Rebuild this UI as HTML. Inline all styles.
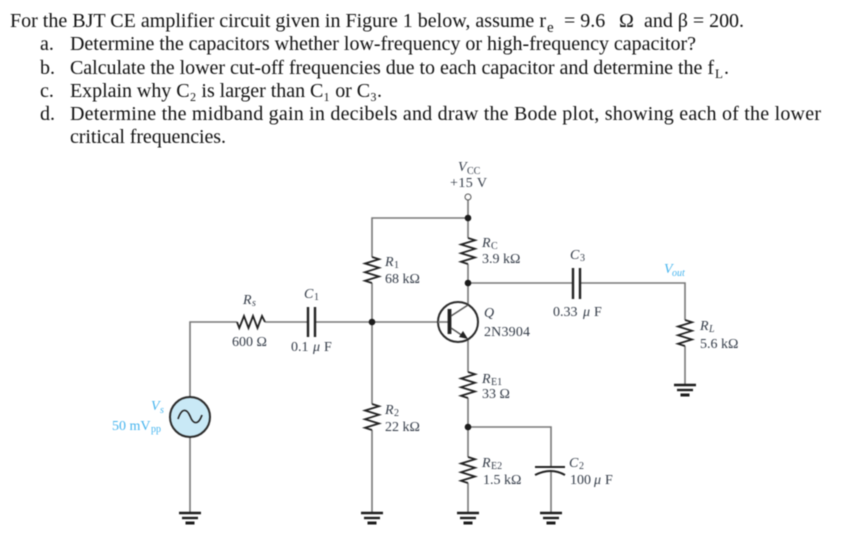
<!DOCTYPE html>
<html><head><meta charset="utf-8">
<style>
html,body{margin:0;padding:0;background:#fff;width:862px;height:541px;overflow:hidden}
svg{display:block;position:absolute;left:0;top:0;filter:blur(0.4px)}
.t{font-family:"Liberation Serif",serif;font-size:20px;fill:#111}
.l{font-family:"Liberation Serif",serif;font-size:14px;fill:#333b47}
.i{font-style:italic}
.s{font-size:10px}
.b{fill:#45b4ee}
.w{stroke:#777;stroke-width:1.6;fill:none}
.r{stroke:#222;stroke-width:1.8;fill:none;stroke-linejoin:miter}
.g{stroke:#1c1c1c;fill:none}
.n{fill:#1c1c1c}
</style></head><body>
<svg width="862" height="541" viewBox="0 0 862 541" xmlns="http://www.w3.org/2000/svg">
<defs>
<path id="res" d="M0 0L7 2.2L-7 6.5L7 10.8L-7 15.2L7 19.5L-7 23.8L0 26"/>
<path id="resh" d="M0 0L2.300 6L7 -6L11.500 6L16 -6L20.500 6L25 -6L28 0"/>
<g id="gnd"><path d="M-11 0H11" stroke-width="2.400"/><path d="M-8 5H8" stroke-width="2.400"/><path d="M-4.500 10H4.500" stroke-width="3"/></g>
</defs>

<!-- question text -->
<text class="t" x="10" y="27" textLength="536" lengthAdjust="spacing">For the BJT CE amplifier circuit given in Figure 1 below, assume r</text>
<text class="t" x="547" y="32" style="font-size:15px">e</text>
<text class="t" x="564" y="27">= 9.6</text>
<text class="t" x="619" y="27">Ω</text>
<text class="t" x="644" y="27" textLength="100" lengthAdjust="spacing">and β = 200.</text>
<text class="t" x="40" y="50">a.</text>
<text class="t" x="70" y="50" textLength="626" lengthAdjust="spacing">Determine the capacitors whether low-frequency or high-frequency capacitor?</text>
<text class="t" x="40" y="74">b.</text>
<text class="t" x="70" y="74" textLength="644" lengthAdjust="spacing">Calculate the lower cut-off frequencies due to each capacitor and determine the f</text>
<text class="t" x="715" y="78" style="font-size:13px">L</text>
<text class="t" x="724" y="74">.</text>
<text class="t" x="40" y="97">c.</text>
<text class="t" x="70" y="97" textLength="312" lengthAdjust="spacing">Explain why C₂ is larger than C₁ or C₃.</text>
<text class="t" x="40" y="120">d.</text>
<text class="t" x="70" y="120" textLength="751" lengthAdjust="spacing">Determine the midband gain in decibels and draw the Bode plot, showing each of the lower</text>
<text class="t" x="70" y="143" textLength="156" lengthAdjust="spacing">critical frequencies.</text>

<!-- wires -->
<path class="w" d="M190 397V322H237M265 322H308M315 322H438M190 437V513"/>
<path class="w" d="M372 257V218H468M468 200V238M468 264V305M468 339V372M372 283V404M372 430V513"/>
<path class="w" d="M468 398V457M468 483V513M468 427H551V467M551 472V513M468 283H573M580 283H685V320M685 346V385"/>

<!-- resistors -->
<use href="#res" class="r" transform="translate(372 257)"/>
<use href="#res" class="r" transform="translate(468 238)"/>
<use href="#res" class="r" transform="translate(372 404)"/>
<use href="#res" class="r" transform="translate(468 372)"/>
<use href="#res" class="r" transform="translate(468 457)"/>
<use href="#res" class="r" transform="translate(685 320)"/>
<use href="#resh" class="r" transform="translate(237 322)"/>

<!-- capacitors -->
<path stroke="#222" stroke-width="2.400" d="M308 307V337M315 307V337M573 268V299M580 268V299"/>
<path stroke="#222" stroke-width="2" fill="none" d="M535 467H565M535 475Q551 467 565 475"/>

<!-- grounds -->
<use href="#gnd" class="g" transform="translate(190 513)"/>
<use href="#gnd" class="g" transform="translate(372 513)"/>
<use href="#gnd" class="g" transform="translate(468 513)"/>
<use href="#gnd" class="g" transform="translate(551 513)"/>
<use href="#gnd" class="g" transform="translate(685 385)"/>

<!-- junctions -->
<circle class="n" cx="372" cy="322" r="3.300"/>
<circle class="n" cx="468" cy="218" r="3.300"/>
<circle class="n" cx="468" cy="283" r="3.300"/>
<circle class="n" cx="468" cy="427" r="3.300"/>
<circle cx="468" cy="197" r="3" fill="#fff" stroke="#555" stroke-width="1"/>

<!-- source -->
<circle cx="190" cy="417" r="20" fill="#c9e9f6" stroke="#2a2a2a" stroke-width="2"/>
<path d="M178 419C182 407 187 409 190 416C193 424 198 426 202 415" fill="none" stroke="#222" stroke-width="1.600"/>

<!-- transistor -->
<circle cx="458" cy="322" r="20" fill="#fff" stroke="#2a2a2a" stroke-width="2"/>
<path class="w" d="M438 322H449"/>
<path stroke="#222" stroke-width="3.800" d="M449.500 309V334"/>
<path stroke="#555" stroke-width="1.400" fill="none" d="M451 316L468 305M451 328L466 338"/>
<path fill="#222" d="M468 339L459 337L463 331Z"/>

<!-- labels -->
<text class="l i" x="458" y="171">V</text><text class="l s" x="467" y="174">CC</text>
<text class="l" x="450" y="187" textLength="37">+15 V</text>
<text class="l i" x="482" y="247">R</text><text class="l s" x="491" y="249">C</text>
<text class="l" x="482" y="263">3.9 kΩ</text>
<text class="l i" x="385" y="266">R</text><text class="l s" x="394" y="268">1</text>
<text class="l" x="385" y="283">68 kΩ</text>
<text class="l i" x="484" y="317">Q</text>
<text class="l" x="484" y="336" textLength="46">2N3904</text>
<text class="l i" x="243" y="304">R</text><text class="l s i" x="252" y="306">s</text>
<text class="l" x="232" y="346">600 Ω</text>
<text class="l i" x="304" y="298">C</text><text class="l s" x="314" y="300">1</text>
<text class="l" x="291" y="351">0.1</text><text class="l i" x="313" y="351">μ</text><text class="l" x="324" y="351">F</text>
<text class="l i b" x="151" y="410">V</text><text class="l s i b" x="160" y="413">s</text>
<text class="l b" x="112" y="430">50 mV</text><text class="l s b" x="151" y="432">pp</text>
<text class="l i" x="385" y="414">R</text><text class="l s" x="394" y="416">2</text>
<text class="l" x="385" y="431">22 kΩ</text>
<text class="l i" x="482" y="383">R</text><text class="l s" x="491" y="385">E1</text>
<text class="l" x="482" y="398">33 Ω</text>
<text class="l i" x="482" y="467">R</text><text class="l s" x="491" y="469">E2</text>
<text class="l" x="483" y="484">1.5 kΩ</text>
<text class="l i" x="569" y="467">C</text><text class="l s" x="579" y="469">2</text>
<text class="l" x="570" y="484">100</text><text class="l i" x="594" y="484">μ</text><text class="l" x="605" y="484">F</text>
<text class="l i" x="570" y="259">C</text><text class="l s" x="580" y="261">3</text>
<text class="l" x="553" y="316">0.33</text><text class="l i" x="583" y="316">μ</text><text class="l" x="594" y="316">F</text>
<text class="l i b" x="664" y="273">V</text><text class="l s i b" x="672" y="276">out</text>
<text class="l i" x="700" y="330">R</text><text class="l s i" x="709" y="332">L</text>
<text class="l" x="700" y="348">5.6 kΩ</text>
</svg>
</body></html>
